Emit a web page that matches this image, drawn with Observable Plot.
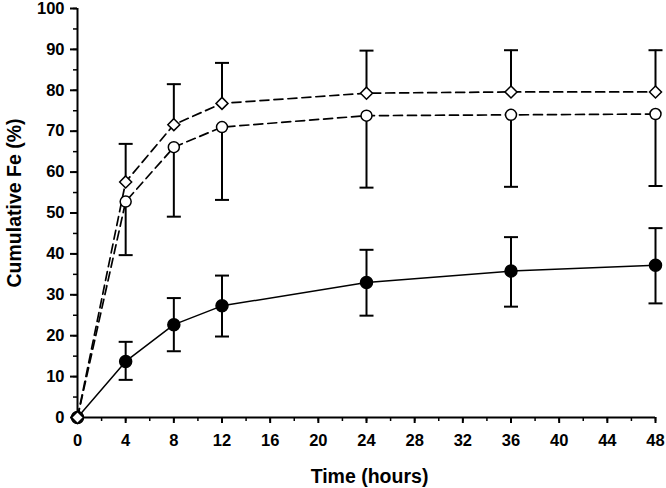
<!DOCTYPE html>
<html>
<head>
<meta charset="utf-8">
<script src="https://cdn.jsdelivr.net/npm/d3@7"></script>
<script src="https://cdn.jsdelivr.net/npm/@observablehq/plot@0.6"></script>
<style>
  html, body { margin: 0; padding: 0; background: #fff; }
</style>
</head>
<body>
<div id="chart"></div>
<script>
// Data
const hours = [0, 4, 8, 12, 24, 36, 48];
const solidMean  = [0, 13.7, 22.7, 27.3, 33.0, 35.8, 37.2];
const solidUpper = [0, 18.5, 29.2, 34.7, 41.0, 44.1, 46.3];
const solidLower = [0,  9.2, 16.2, 19.8, 24.9, 27.1, 27.9];
const circleMean  = [0, 52.8, 66.1, 71.0, 73.8, 74.0, 74.2];
const circleLower = [0, 39.7, 49.1, 53.2, 56.2, 56.4, 56.6];
const diamondMean  = [0, 57.6, 71.6, 76.8, 79.3, 79.6, 79.6];
const diamondUpper = [0, 66.9, 81.5, 86.7, 89.7, 89.8, 89.8];
const yTicks = [0, 10, 20, 30, 40, 50, 60, 70, 80, 90, 100];
const xTicks = [0, 4, 8, 12, 16, 20, 24, 28, 32, 36, 40, 44, 48];
const xLabel = "Time (hours)";
const yLabel = "Cumulative Fe (%)";

const solid = hours.map((h, i) => ({h, m: solidMean[i], lo: solidLower[i], hi: solidUpper[i]}));
const circ = hours.map((h, i) => ({h, m: circleMean[i], lo: circleLower[i], hi: circleMean[i]}));
const diam = hours.map((h, i) => ({h, m: diamondMean[i], lo: diamondMean[i], hi: diamondUpper[i]}));
const withErr = (arr) => arr.filter(d => d.h > 0);

const cap = {draw(ctx) { ctx.moveTo(-7, 0); ctx.lineTo(7, 0); }};

const font = "'Liberation Sans', Arial, sans-serif";

const chart = Plot.plot({
  width: 666,
  height: 488,
  marginLeft: 77,
  marginRight: 11,
  marginTop: 8,
  marginBottom: 71,
  x: {domain: [0, 48]},
  y: {domain: [0, 100]},
  style: {fontFamily: font, color: "#000", background: "#fff", overflow: "visible"},
  marks: [
    // minor ticks
    Plot.axisY(d3.range(0, 101, 5), {tickSize: 4, text: null, label: null, strokeWidth: 1.5}),
    Plot.axisX(d3.range(0, 49, 2), {tickSize: 4, text: null, label: null, strokeWidth: 1.5}),
    // major ticks
    Plot.axisY(yTicks, {tickSize: 7, tickPadding: 6, fontSize: 16.5, fontWeight: "bold", label: null, strokeWidth: 2}),
    Plot.axisX(xTicks, {tickSize: 6, tickPadding: 11, fontSize: 16.5, fontWeight: "bold", label: null, strokeWidth: 2}),
    Plot.ruleX([0], {strokeWidth: 2}),
    Plot.ruleY([0], {strokeWidth: 2}),
    Plot.text([xLabel], {frameAnchor: "bottom", lineAnchor: "middle", dy: 59, dx: 3, fontSize: 19.5, fontWeight: "bold"}),
    Plot.text([yLabel], {frameAnchor: "left", rotate: -90, textAnchor: "middle", lineAnchor: "middle", dx: -63, dy: -10, fontSize: 19.5, fontWeight: "bold"}),
    // error bars
    ...[solid, circ, diam].map(s =>
      Plot.ruleX(withErr(s), {x: "h", y1: "lo", y2: "hi", strokeWidth: 2})
    ),
    Plot.dot(withErr(solid), {x: "h", y: "hi", symbol: cap, stroke: "black", fill: "none", strokeWidth: 2}),
    Plot.dot(withErr(solid), {x: "h", y: "lo", symbol: cap, stroke: "black", fill: "none", strokeWidth: 2}),
    Plot.dot(withErr(circ), {x: "h", y: "lo", symbol: cap, stroke: "black", fill: "none", strokeWidth: 2}),
    Plot.dot(withErr(diam), {x: "h", y: "hi", symbol: cap, stroke: "black", fill: "none", strokeWidth: 2}),
    // lines
    Plot.line(solid, {x: "h", y: "m", stroke: "black", strokeWidth: 1.5}),
    Plot.line(circ, {x: "h", y: "m", stroke: "black", strokeWidth: 1.7, strokeDasharray: "9,5"}),
    Plot.line(diam, {x: "h", y: "m", stroke: "black", strokeWidth: 1.7, strokeDasharray: "9,5"}),
    // markers
    Plot.dot(solid, {x: "h", y: "m", r: 6, fill: "black", stroke: "black"}),
    Plot.dot(circ, {x: "h", y: "m", r: 5.5, fill: "white", stroke: "black", strokeWidth: 1.5}),
    Plot.dot(diam, {x: "h", y: "m", r: 5.4, symbol: "diamond2", fill: "white", stroke: "black", strokeWidth: 1.5})
  ]
});
document.getElementById("chart").appendChild(chart);
</script>
</body>
</html>
